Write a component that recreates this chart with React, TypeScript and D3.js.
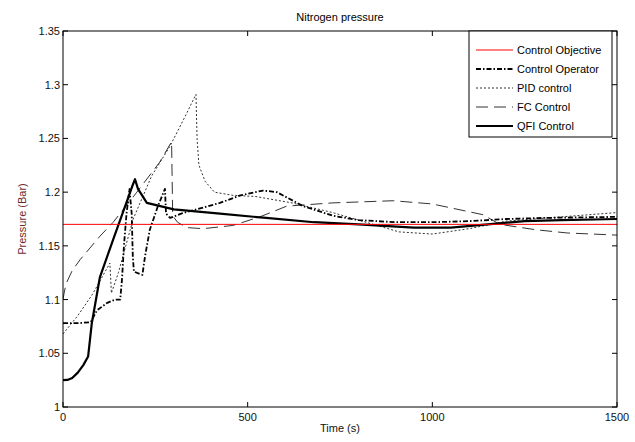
import React from 'react';
import * as d3 from 'd3';

// values
const yTicks = [1, 1.05, 1.1, 1.15, 1.2, 1.25, 1.3, 1.35];
const xTicks = [0, 500, 1000, 1500];
const objective = 1.17;

const operatorT = [0, 40, 75, 92, 120, 141, 155, 160, 165, 172, 180, 186, 189, 192, 215, 222, 235, 257, 276, 279, 290, 320, 425, 480, 542, 579, 650, 731, 800, 900, 1000, 1100, 1200, 1300, 1500];
const operatorP = [1.078, 1.078, 1.079, 1.09, 1.097, 1.1, 1.1, 1.12, 1.15, 1.18, 1.203, 1.18, 1.14, 1.126, 1.123, 1.14, 1.165, 1.187, 1.203, 1.18, 1.176, 1.18, 1.19, 1.197, 1.2015, 1.2, 1.187, 1.178, 1.174, 1.172, 1.172, 1.173, 1.175, 1.176, 1.177];

const pidT = [0, 40, 80, 127, 131, 150, 190, 240, 290, 330, 360, 363, 368, 385, 410, 460, 520, 620, 730, 820, 910, 1000, 1100, 1200, 1350, 1500];
const pidP = [1.068, 1.085, 1.105, 1.134, 1.106, 1.125, 1.175, 1.215, 1.243, 1.27, 1.291, 1.25, 1.225, 1.21, 1.2, 1.197, 1.196, 1.19, 1.181, 1.172, 1.163, 1.161, 1.166, 1.173, 1.177, 1.181];

const fcT = [0, 4, 10, 25, 46, 100, 136, 200, 262, 294, 297, 310, 335, 380, 460, 533, 606, 731, 894, 1000, 1137, 1183, 1280, 1365, 1500];
const fcP = [1.1, 1.108, 1.116, 1.127, 1.137, 1.159, 1.172, 1.2, 1.228, 1.247, 1.178, 1.172, 1.167, 1.166, 1.169, 1.177, 1.187, 1.19, 1.192, 1.189, 1.179, 1.17, 1.165, 1.162, 1.16];

const qfiT = [0, 12, 25, 40, 55, 68, 78, 100, 136, 187, 195, 203, 227, 300, 425, 550, 680, 800, 950, 1050, 1150, 1250, 1350, 1500];
const qfiP = [1.025, 1.0252, 1.027, 1.032, 1.039, 1.047, 1.078, 1.121, 1.156, 1.205, 1.212, 1.203, 1.19, 1.184, 1.18, 1.176, 1.172, 1.17, 1.167, 1.167, 1.17, 1.173, 1.174, 1.175];

const legendNames = ['Control Objective', 'Control Operator', 'PID control', 'FC Control', 'QFI Control'];

const W = 635;
const H = 442;
const left = 63, right = 617, top = 31, bottom = 407;
const font = '"Liberation Sans", Arial, sans-serif';

const styles = [
  { stroke: '#ff0000', width: 1, dash: '' },
  { stroke: '#000', width: 1.8, dash: '5,2,1.5,2' },
  { stroke: '#333', width: 1, dash: '2,2' },
  { stroke: '#333', width: 1, dash: '12,6' },
  { stroke: '#000', width: 2.2, dash: '' },
];

export default function App() {
  const x = d3.scaleLinear().domain([0, 1500]).range([left, right]);
  const y = d3.scaleLinear().domain([1, 1.35]).range([bottom, top]);

  const line = d3.line<[number, number]>()
    .x(d => x(d[0]))
    .y(d => y(d[1]));

  const zip = (t: number[], p: number[]) => t.map((v, i) => [v, p[i]] as [number, number]);

  const series = [
    zip([0, 1500], [objective, objective]),
    zip(operatorT, operatorP),
    zip(pidT, pidP),
    zip(fcT, fcP),
    zip(qfiT, qfiP),
  ];

  const drawOrder = [3, 2, 1, 4, 0];

  const lx = 469, ly = 31, lw = 143, lh = 106;

  return (
    <svg width={W} height={H} style={{ position: 'absolute', left: 0, top: 0, background: '#fff' }}
      fontFamily={font}>
      <defs>
        <clipPath id="plot">
          <rect x={left} y={top} width={right - left} height={bottom - top} />
        </clipPath>
      </defs>
      <rect x={0} y={0} width={W} height={H} fill="#fff" />

      <g clipPath="url(#plot)">
        {drawOrder.map(i => (
          <path key={i} d={line(series[i]) || ''} fill="none" stroke={styles[i].stroke}
            strokeWidth={styles[i].width} strokeDasharray={styles[i].dash || undefined}
            strokeLinejoin="round" />
        ))}
      </g>

      <rect x={left} y={top} width={right - left} height={bottom - top} fill="none" stroke="#000" strokeWidth={1} />

      {xTicks.map(t => (
        <g key={'x' + t}>
          <line x1={x(t)} x2={x(t)} y1={bottom} y2={bottom - 5} stroke="#000" />
          <line x1={x(t)} x2={x(t)} y1={top} y2={top + 5} stroke="#000" />
          <text x={x(t)} y={bottom + 14} fontSize={11} textAnchor="middle" fill="#111">{t}</text>
        </g>
      ))}
      {yTicks.map(t => (
        <g key={'y' + t}>
          <line x1={left} x2={left + 5} y1={y(t)} y2={y(t)} stroke="#000" />
          <line x1={right} x2={right - 5} y1={y(t)} y2={y(t)} stroke="#000" />
          <text x={left - 3} y={y(t) + 4} fontSize={11} textAnchor="end" fill="#111">{String(t)}</text>
        </g>
      ))}

      <text x={340} y={21} fontSize={11} textAnchor="middle" fill="#000">Nitrogen pressure</text>
      <text x={340} y={432} fontSize={11} textAnchor="middle" fill="#111">Time (s)</text>
      <text transform={`translate(26,${(top + bottom) / 2}) rotate(-90)`} fontSize={11}
        textAnchor="middle" fill="#6e2a2a">Pressure (Bar)</text>

      <g>
        <rect x={lx} y={ly} width={lw} height={lh} fill="#fff" stroke="#000" strokeWidth={1} />
        {legendNames.map((name, i) => {
          const yy = ly + 19 + i * 19;
          return (
            <g key={name}>
              <line x1={lx + 7} x2={lx + 44} y1={yy} y2={yy} stroke={styles[i].stroke}
                strokeWidth={styles[i].width} strokeDasharray={styles[i].dash || undefined} />
              <text x={lx + 48} y={yy + 4} fontSize={11} fill="#000">{name}</text>
            </g>
          );
        })}
      </g>
    </svg>
  );
}
